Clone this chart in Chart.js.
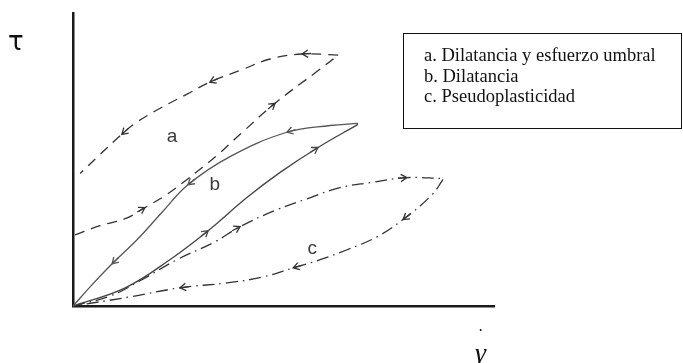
<!DOCTYPE html>
<html>
<head>
<meta charset="utf-8">
<script src="https://cdn.jsdelivr.net/npm/chart.js@4.4.1/dist/chart.umd.min.js"></script>
<style>
  html, body { margin: 0; padding: 0; background: #fff; }
  #wrap { position: relative; width: 683px; height: 363px; overflow: hidden; }
  #plot { position: absolute; left: 0; top: 0; }
  .tau { position: absolute; left: 8px; top: 28px; font: 26px "DejaVu Sans", sans-serif; line-height: 1; color: #111; }
  .gamma { position: absolute; left: 475px; top: 339px; font: italic 28px "Liberation Serif", serif; line-height: 1; color: #111; }
  .gdot { position: absolute; left: 478px; top: 322px; font: 16px "Liberation Serif", serif; color: #111; }
  #legend {
    position: absolute; left: 403px; top: 33px; width: 279px; height: 96px;
    border: 1.5px solid #111; box-sizing: border-box;
    font: 18.5px "Liberation Serif", serif; color: #111;
    padding: 11px 0 0 20px; line-height: 20.5px; white-space: nowrap;
  }
</style>
</head>
<body>
<div id="wrap">
  <canvas id="plot" width="683" height="363"></canvas>
  <div class="tau">τ</div>
  <div class="gdot">·</div>
  <div class="gamma">γ</div>
  <div id="legend">
    <div>a. Dilatancia y esfuerzo umbral</div>
    <div>b. Dilatancia</div>
    <div>c. Pseudoplasticidad</div>
  </div>
</div>
<script>
// shear rate (x) vs shear stress (y), arbitrary units 0..100
// loop a: dilatant with yield stress
const aUpX = [0.5, 6.4, 12.4, 17.1, 21.9, 27.1, 34.2, 39.7, 48.0, 58.0, 63.0];
const aUpY = [24.3, 27.4, 29.8, 33.6, 37.7, 43.2, 51.4, 58.6, 69.2, 80.1, 85.6];
const aDownX = [63.0, 54.4, 46.8, 40.4, 32.5, 27.1, 20.7, 14.7, 11.6, 6.4, 1.7];
const aDownY = [85.6, 86.0, 84.3, 80.8, 76.4, 72.3, 67.5, 62.3, 58.6, 51.7, 45.2];

// loop b: dilatant
const bUpX = [0, 12.4, 23.0, 32.1, 41.3, 49.2, 58.2, 67.7];
const bUpY = [0, 6.2, 15.8, 25.7, 37.0, 45.6, 54.1, 62.0];
const bDownX = [67.7, 61.1, 50.8, 37.3, 27.3, 21.1, 15.2, 9.3, 4.5, 0];
const bDownY = [62.3, 61.6, 59.3, 51.0, 41.4, 31.9, 22.6, 14.4, 7.2, 0];

// loop c: pseudoplastic
const cUpX = [0, 8.8, 15.9, 24.7, 33.7, 39.7, 48.5, 55.6, 63.4, 70.6, 79.3, 87.9];
const cUpY = [0, 3.4, 8.6, 15.8, 21.9, 27.1, 32.9, 36.6, 40.4, 42.1, 43.8, 43.5];
const cDownX = [87.9, 85.3, 78.4, 72.2, 65.1, 58.7, 52.3, 45.1, 36.6, 25.4, 13.5, 0];
const cDownY = [43.2, 38.0, 29.5, 23.6, 19.2, 15.8, 13.0, 9.9, 7.9, 6.2, 3.1, 0];

// which points of each branch carry a direction arrow
const aUpArrows = [3, 8];
const aDownArrows = [1, 4, 8];
const bUpArrows = [3, 6];
const bDownArrows = [2, 4, 7];
const cUpArrows = [5, 10];
const cDownArrows = [2, 6, 9];

// curve labels
const curveNames = ['a', 'b', 'c'];
const nameX = [23.5, 33.7, 56.8];
const nameY = [57.9, 41.4, 19.5];

const pts = (xs, ys) => xs.map((x, i) => ({ x, y: ys[i] }));

const DASH = [10, 7];
const DASHDOT = [12, 5, 1.5, 5];

function branch(xs, ys, arrows, dash, color) {
  return {
    data: pts(xs, ys), arrows,
    showLine: true, borderColor: color, borderWidth: 1.3,
    borderDash: dash, tension: 0.4,
    pointRadius: 0, pointHoverRadius: 0, clip: false
  };
}

// open chevrons along each branch, pointing the way the loop is travelled
const arrowPlugin = {
  id: 'arrows',
  afterDatasetsDraw(chart) {
    const { ctx, scales: { x, y } } = chart;
    ctx.save();
    chart.data.datasets.forEach(ds => {
      ctx.strokeStyle = ds.borderColor;
      ctx.lineWidth = 1.3;
      ds.arrows.forEach(i => {
        const p = ds.data[i];
        const prev = ds.data[Math.max(i - 1, 0)];
        const next = ds.data[Math.min(i + 1, ds.data.length - 1)];
        const px = x.getPixelForValue(p.x), py = y.getPixelForValue(p.y);
        const ang = Math.atan2(y.getPixelForValue(next.y) - y.getPixelForValue(prev.y),
                               x.getPixelForValue(next.x) - x.getPixelForValue(prev.x));
        const len = 7, spread = 0.55;
        ctx.beginPath();
        ctx.moveTo(px - len * Math.cos(ang - spread), py - len * Math.sin(ang - spread));
        ctx.lineTo(px, py);
        ctx.lineTo(px - len * Math.cos(ang + spread), py - len * Math.sin(ang + spread));
        ctx.moveTo(px - 9 * Math.cos(ang), py - 9 * Math.sin(ang));
        ctx.lineTo(px, py);
        ctx.stroke();
      });
    });
    ctx.fillStyle = '#3a3a3a';
    ctx.font = '19px "Liberation Sans", Arial, sans-serif';
    ctx.textAlign = 'center';
    ctx.textBaseline = 'middle';
    curveNames.forEach((n, i) => {
      ctx.fillText(n, x.getPixelForValue(nameX[i]), y.getPixelForValue(nameY[i]));
    });
    ctx.restore();
  }
};

const axis = {
  type: 'linear', min: 0, max: 100,
  ticks: { display: false },
  grid: { display: false, drawTicks: false },
  border: { display: true, color: '#1a1a1a', width: 2.5 }
};

new Chart(document.getElementById('plot'), {
  type: 'scatter',
  data: {
    datasets: [
      branch(aUpX, aUpY, aUpArrows, DASH, '#333'),
      branch(aDownX, aDownY, aDownArrows, DASH, '#333'),
      branch(bUpX, bUpY, bUpArrows, [], '#444'),
      branch(bDownX, bDownY, bDownArrows, [], '#555'),
      branch(cUpX, cUpY, cUpArrows, DASHDOT, '#333'),
      branch(cDownX, cDownY, cDownArrows, DASHDOT, '#333')
    ]
  },
  options: {
    responsive: false,
    animation: false,
    layout: { padding: { left: 73, top: 13, right: 189, bottom: 57 } },
    plugins: { legend: { display: false }, tooltip: { enabled: false } },
    scales: { x: axis, y: axis }
  },
  plugins: [arrowPlugin]
});
</script>
</body>
</html>
